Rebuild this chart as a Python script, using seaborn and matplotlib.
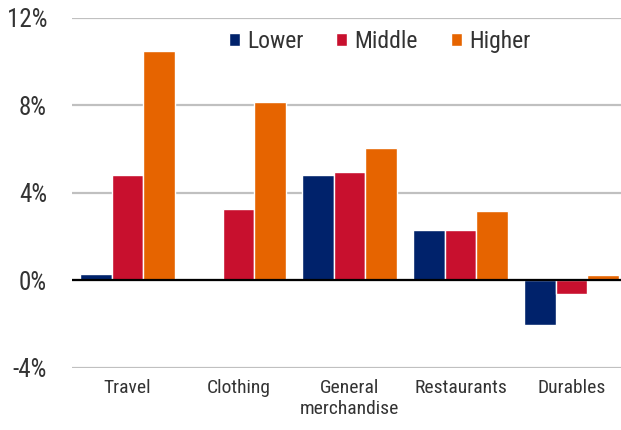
import matplotlib
matplotlib.use("Agg")
import matplotlib.pyplot as plt
from matplotlib import font_manager
import seaborn as sns
import pandas as pd

categories = ["Travel", "Clothing", "General\nmerchandise", "Restaurants", "Durables"]
series = ["Lower", "Middle", "Higher"]
lower = [0.26, 0.0, 4.82, 2.31, -2.07]
middle = [4.82, 3.27, 4.95, 2.31, -0.62]
higher = [10.48, 8.15, 6.05, 3.18, 0.22]
y_ticks = [-4, 0, 4, 8, 12]
colors = ["#00226B", "#C8102E", "#E66400"]

rows = []
for name, vals in zip(series, [lower, middle, higher]):
    for cat, v in zip(categories, vals):
        rows.append({"category": cat, "group": name, "value": v})
df = pd.DataFrame(rows)

sns.set_theme(style="white")
installed = {f.name for f in font_manager.fontManager.ttflist}
family = [f for f in ["Liberation Sans Narrow", "Roboto Condensed", "Open Sans", "DejaVu Sans"] if f in installed]
plt.rcParams["font.family"] = family

fig = plt.figure(figsize=(6.21, 4.30), dpi=100)
ax = fig.add_axes([0.116, 0.145, 0.884, 0.814])

sns.barplot(data=df, x="category", y="value", hue="group", order=categories,
            hue_order=series, palette=colors, width=0.85, edgecolor="white",
            linewidth=1.0, saturation=1, ax=ax, legend=True)

ax.set_ylim(-4, 12)
ax.set_xlim(-0.5, 4.446)
ax.set_yticks(y_ticks)
ax.set_yticklabels([f"{t}%" for t in y_ticks])
ax.yaxis.grid(True, color="#C0C0C0", linewidth=1.6)
ax.set_axisbelow(True)
ax.axhline(0, color="black", linewidth=1.6, zorder=3)
for s in ax.spines.values():
    s.set_visible(False)
ax.set_xlabel("")
ax.set_ylabel("")
ax.tick_params(axis="y", labelsize=18, colors="#333333", length=0, pad=18)
ax.tick_params(axis="x", labelsize=14, colors="#333333", length=0, pad=8)

leg = ax.legend(loc="center", bbox_to_anchor=(0.56, 0.933), ncol=3,
                frameon=False, fontsize=17, handlelength=0.47, handleheight=0.47,
                handletextpad=0.3, columnspacing=1.4, labelcolor="#333333",
                borderaxespad=0, borderpad=0)

fig.savefig("out.png", dpi=100)
